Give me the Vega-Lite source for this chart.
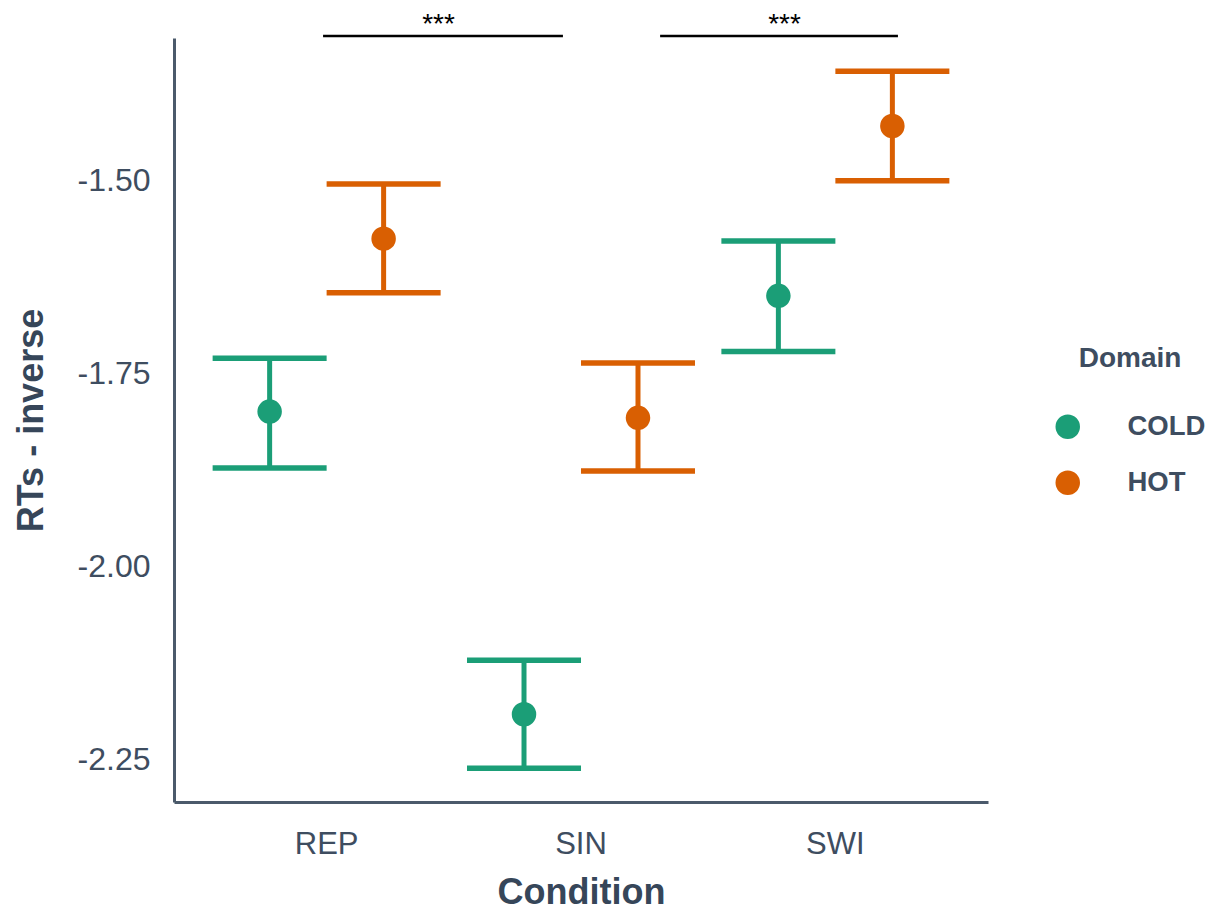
{
  "$schema": "https://vega.github.io/schema/vega-lite/v6.json",
  "width": 814,
  "height": 764,
  "autosize": {"type": "none"},
  "padding": {"left": 174, "top": 38, "right": 235, "bottom": 114},
  "background": "white",
  "config": {
    "view": {"stroke": null},
    "font": "Liberation Sans",
    "axis": {"grid": false, "ticks": false, "tickSize": 0, "domainColor": "#4b5a6b", "domainWidth": 3, "labelColor": "#3e4d60", "titleColor": "#364659", "labelFont": "Liberation Sans", "titleFont": "Liberation Sans"}
  },
  "layer": [
    {
      "data": {"values": [
        {"Condition": "REP", "Domain": "COLD", "mean": -1.800, "lo": -1.873, "hi": -1.731},
        {"Condition": "REP", "Domain": "HOT", "mean": -1.576, "lo": -1.646, "hi": -1.505},
        {"Condition": "SIN", "Domain": "COLD", "mean": -2.192, "lo": -2.262, "hi": -2.122},
        {"Condition": "SIN", "Domain": "HOT", "mean": -1.808, "lo": -1.877, "hi": -1.737},
        {"Condition": "SWI", "Domain": "COLD", "mean": -1.650, "lo": -1.722, "hi": -1.579},
        {"Condition": "SWI", "Domain": "HOT", "mean": -1.430, "lo": -1.501, "hi": -1.359}
      ]},
      "encoding": {
        "x": {"field": "Condition", "type": "nominal", "scale": {"type": "band", "paddingInner": 0, "paddingOuter": 0.1},
          "axis": {"title": "Condition", "labelAngle": 0, "labelFontSize": 31, "labelPadding": 27, "titleFontSize": 36, "titleFontWeight": "bold", "titlePadding": 16}},
        "xOffset": {"field": "Domain", "type": "nominal", "scale": {"type": "band", "paddingInner": 0, "paddingOuter": 0.1158}},
        "color": {"field": "Domain", "type": "nominal", "scale": {"domain": ["COLD", "HOT"], "range": ["#1b9e77", "#d95f02"]},
          "legend": {"title": "Domain", "orient": "none", "legendX": 880, "legendY": 307, "padding": 0,
            "titleFontSize": 28, "titleFontWeight": "bold", "titleColor": "#3e4d60", "titleAnchor": "middle", "titlePadding": 40,
            "labelFontSize": 27.5, "labelFontWeight": "bold", "labelColor": "#3e4d60", "labelOffset": 46,
            "symbolType": "circle", "symbolSize": 600, "symbolStrokeWidth": 0, "rowPadding": 27}}
      },
      "layer": [
        {
          "mark": {"type": "rule", "strokeWidth": 5},
          "encoding": {
            "y": {"field": "lo", "type": "quantitative", "scale": {"domain": [-2.3057, -1.316], "nice": false, "zero": false},
              "axis": {"title": "RTs - inverse", "values": [-2.25, -2.0, -1.75, -1.5], "labelExpr": "replace(format(datum.value, '.2f'), '\u2212', '-')", "labelFontSize": 32, "labelPadding": 24, "titleFontSize": 36, "titleFontWeight": "bold", "titlePadding": 27}},
            "y2": {"field": "hi"}
          }
        },
        {
          "mark": {"type": "tick", "size": 114, "thickness": 5.5, "opacity": 1},
          "encoding": {
            "y": {"field": "lo", "type": "quantitative"}
          }
        },
        {
          "mark": {"type": "tick", "size": 114, "thickness": 5.5, "opacity": 1},
          "encoding": {
            "y": {"field": "hi", "type": "quantitative"}
          }
        },
        {
          "mark": {"type": "point", "shape": "circle", "filled": true, "size": 600, "opacity": 1},
          "encoding": {
            "y": {"field": "mean", "type": "quantitative"}
          }
        }
      ]
    },
    {
      "data": {"values": [
        {"xmin": 0.986, "xmax": 1.929, "xmid": 1.44, "y": -1.3135, "label": "***"},
        {"xmin": 2.311, "xmax": 3.246, "xmid": 2.80, "y": -1.3135, "label": "***"}
      ]},
      "encoding": {
        "x": {"field": "xmin", "type": "quantitative", "scale": {"domain": [0.4, 3.6], "nice": false, "zero": false}, "axis": null},
        "y": {"field": "y", "type": "quantitative", "scale": {"domain": [-2.3057, -1.316], "nice": false, "zero": false}, "axis": null}
      },
      "layer": [
        {
          "mark": {"type": "rule", "color": "black", "strokeWidth": 2.5},
          "encoding": {
            "x2": {"field": "xmax"}
          }
        },
        {
          "mark": {"type": "text", "color": "black", "fontSize": 28, "baseline": "alphabetic", "dy": -3},
          "encoding": {
            "x": {"field": "xmid", "type": "quantitative"},
            "text": {"field": "label"}
          }
        }
      ]
    }
  ],
  "resolve": {"scale": {"x": "independent", "y": "independent"}, "axis": {"x": "independent", "y": "independent"}}
}
